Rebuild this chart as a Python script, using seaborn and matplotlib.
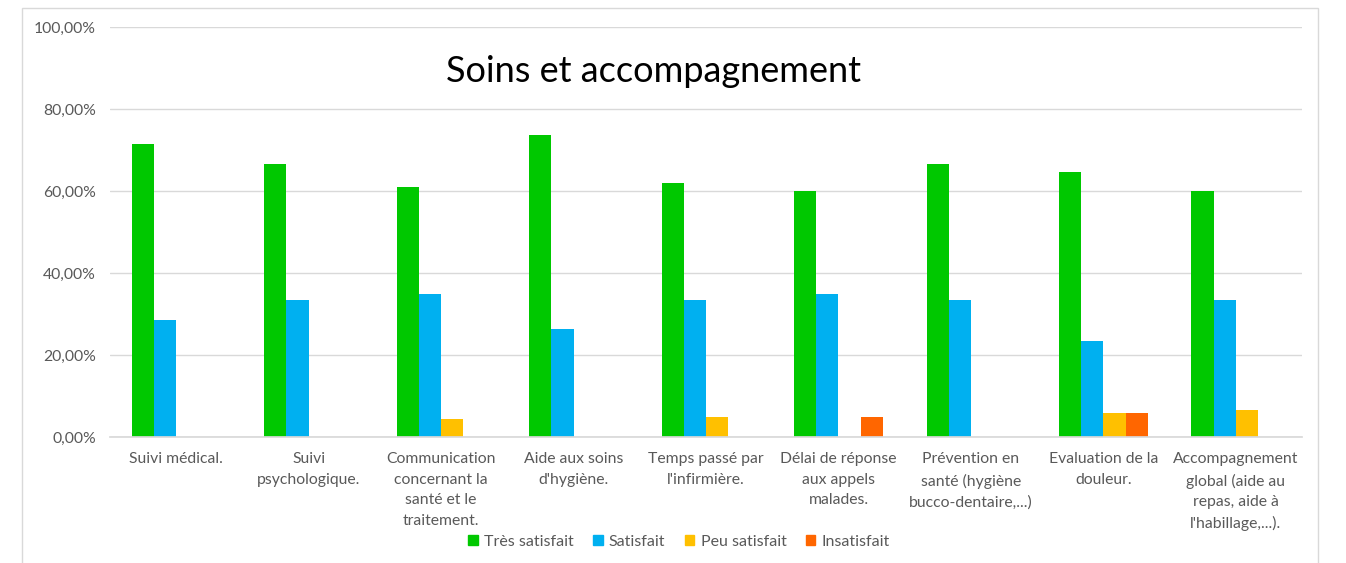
import numpy as np
import pandas as pd
import matplotlib
matplotlib.use('Agg')
import matplotlib.pyplot as plt
import seaborn as sns
from matplotlib.patches import Rectangle
from matplotlib.ticker import FuncFormatter

sns.set_theme(style="white")
plt.rcParams['font.family'] = ['Lato', 'DejaVu Sans']

categories = [
    "Suivi médical.",
    "Suivi\npsychologique.",
    "Communication\nconcernant la\nsanté et le\ntraitement.",
    "Aide aux soins\nd'hygiène.",
    "Temps passé par\nl'infirmière.",
    "Délai de réponse\naux appels\nmalades.",
    "Prévention en\nsanté (hygiène\nbucco-dentaire,...)",
    "Evaluation de la\ndouleur.",
    "Accompagnement\nglobal (aide au\nrepas, aide à\nl'habillage,...).",
]
series = ["Très satisfait", "Satisfait", "Peu satisfait", "Insatisfait"]
tres_satisfait = [71.43, 66.67, 60.87, 73.68, 61.90, 60.00, 66.67, 64.71, 60.00]
satisfait = [28.57, 33.33, 34.78, 26.32, 33.33, 35.00, 33.33, 23.53, 33.33]
peu_satisfait = [0, 0, 4.35, 0, 4.76, 0, 0, 5.88, 6.67]
insatisfait = [0, 0, 0, 0, 0, 5.00, 0, 5.88, 0]
colors = ["#00C800", "#00B0F0", "#FFC000", "#FF6600"]

rows = []
for s, vals in zip(series, [tres_satisfait, satisfait, peu_satisfait, insatisfait]):
    for c, v in zip(categories, vals):
        rows.append({"cat": c, "serie": s, "val": v})
df = pd.DataFrame(rows)

fig = plt.figure(figsize=(13.46, 5.63), dpi=100)
ax = fig.add_axes([110 / 1346, 1 - 437 / 563, (1302 - 110) / 1346, (437 - 27) / 563])

sns.barplot(data=df, x="cat", y="val", hue="serie", hue_order=series,
            palette=colors, width=0.67, gap=0, saturation=1, linewidth=0,
            ax=ax, legend=False)

ax.set_ylim(0, 100)
ax.set_yticks(np.arange(0, 101, 20))
ax.yaxis.set_major_formatter(FuncFormatter(lambda v, p: f"{v:.2f}%".replace(".", ",")))
ax.grid(axis="y", color="#D9D9D9", linewidth=1)
ax.set_axisbelow(True)
for sp in ["top", "right", "left"]:
    ax.spines[sp].set_visible(False)
ax.spines["bottom"].set_color("#D9D9D9")
ax.set_xlabel("")
ax.set_ylabel("")
ax.tick_params(axis="both", length=0, labelsize=11.3, colors="#595959", pad=10)
ax.tick_params(axis="x", pad=11)
for lbl in ax.get_xticklabels():
    lbl.set_linespacing(1.6)
ax.set_xlim(-0.5, len(categories) - 0.5)

fig.text(653 / 1346, 1 - 72 / 563, "Soins et accompagnement", ha="center", va="center",
         fontsize=26, color="#000000")

handles = [Rectangle((0, 0), 1, 1, color=c) for c in colors]
fig.legend(handles, series, loc="center", bbox_to_anchor=(679 / 1346, 1 - 542 / 563),
           ncol=4, frameon=False, fontsize=11.5, handlelength=0.6, handleheight=0.6,
           columnspacing=1.2, handletextpad=0.4, labelcolor="#595959")

fig.patches.append(Rectangle((22 / 1346, -0.05), (1318 - 22) / 1346, 1.05 - 8 / 563,
                             transform=fig.transFigure, fill=False,
                             edgecolor="#D9D9D9", linewidth=1))

fig.savefig("out.png", dpi=100)
